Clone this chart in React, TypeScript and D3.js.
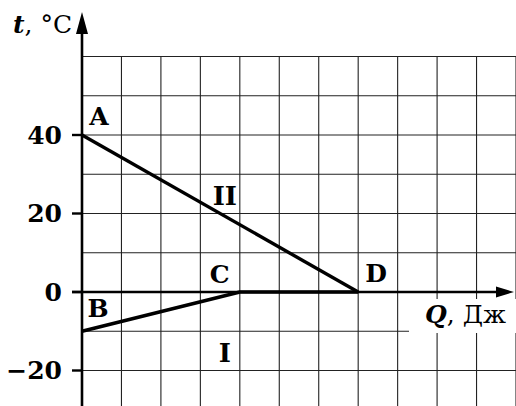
import React from "react";
import * as d3 from "d3";

const W = 516;
const H = 406;

// Data (Q in grid cells, t in °C)
const lineII_Q = [0, 7];
const lineII_t = [40, 0];
const lineI_Q = [0, 4, 7];
const lineI_t = [-10, 0, 0];
const yTicks = [40, 20, 0, -20];
const gridQ = [1, 2, 3, 4, 5, 6, 7, 8, 9, 10, 11];
const gridT = [60, 50, 40, 30, 20, 10, -10, -20];
const pointLabels = ["A", "B", "C", "D"];
const pointQ = [0, 0, 4, 7];
const pointT = [40, -10, 0, 0];
const curveLabels = ["II", "I"];
const curveQ = [3.62, 3.62];
const curveT = [24.5, -15.5];

const x = d3.scaleLinear().domain([0, 11]).range([82, 516]);
const y = d3.scaleLinear().domain([0, 40]).range([292, 135]);

const font = "'DejaVu Serif', serif";

export default function App() {
  const line = d3
    .line<[number, number]>()
    .x((d) => x(d[0]))
    .y((d) => y(d[1]));
  const ptsII: [number, number][] = lineII_Q.map((q, i) => [q, lineII_t[i]]);
  const ptsI: [number, number][] = lineI_Q.map((q, i) => [q, lineI_t[i]]);
  const yBottom = H;
  const yTop = y(60);
  const labelOffsets: [number, number][] = [
    [17, -10],
    [16, -14],
    [-20, -9],
    [18, -10],
  ];
  return (
    <svg
      width={W}
      height={H}
      style={{ position: "absolute", left: 0, top: 0, background: "#fff" }}
      fontFamily={font}
    >
      <rect x={0} y={0} width={W} height={H} fill="#fff" />
      {/* grid */}
      <g stroke="#222" strokeWidth={1.1}>
        {gridQ.map((q) => (
          <line key={"v" + q} x1={x(q)} x2={x(q)} y1={yTop} y2={yBottom} />
        ))}
        {gridT.map((t) => (
          <line key={"h" + t} x1={x(0)} x2={x(11)} y1={y(t)} y2={y(t)} />
        ))}
      </g>
      {/* white box behind Q label */}
      <rect x={409} y={299} width={107} height={34} fill="#fff" />
      {/* axes */}
      <line x1={x(0)} x2={x(0)} y1={H} y2={30} stroke="#000" strokeWidth={2.6} />
      <path d={`M${x(0)},12 L${x(0) - 6},34 L${x(0) + 6},34 Z`} fill="#000" />
      <line x1={72} x2={500} y1={y(0)} y2={y(0)} stroke="#000" strokeWidth={2.4} />
      <path d={`M514,${y(0)} L496,${y(0) - 5.5} L496,${y(0) + 5.5} Z`} fill="#000" />
      {yTicks.map((t) => (
        <g key={"t" + t}>
          <line x1={72} x2={x(0)} y1={y(t)} y2={y(t)} stroke="#000" strokeWidth={2.4} />
          <text
            x={62}
            y={y(t) + 8.5}
            textAnchor="end"
            fontSize={25}
            fontWeight="bold"
          >
            {t < 0 ? "\u2212" + Math.abs(t) : String(t)}
          </text>
        </g>
      ))}
      {/* data lines */}
      <path d={line(ptsII) || ""} fill="none" stroke="#000" strokeWidth={3.4} />
      <path d={line(ptsI) || ""} fill="none" stroke="#000" strokeWidth={3.6} strokeLinejoin="round" />
      {/* point labels */}
      {pointLabels.map((l, i) => (
        <text
          key={l}
          x={x(pointQ[i]) + labelOffsets[i][0]}
          y={y(pointT[i]) + labelOffsets[i][1]}
          textAnchor="middle"
          fontSize={25}
          fontWeight="bold"
        >
          {l}
        </text>
      ))}
      {curveLabels.map((l, i) => (
        <text
          key={l}
          x={x(curveQ[i])}
          y={y(curveT[i]) + 9}
          textAnchor="middle"
          fontSize={26}
          fontWeight="bold"
        >
          {l}
        </text>
      ))}
      {/* axis titles */}
      <text x={13} y={33} fontSize={25}>
        <tspan fontWeight="bold" fontStyle="italic">t</tspan>
        <tspan>, °C</tspan>
      </text>
      <text x={425} y={323} fontSize={25}>
        <tspan fontWeight="bold" fontStyle="italic">Q</tspan>
        <tspan>, Дж</tspan>
      </text>
    </svg>
  );
}
